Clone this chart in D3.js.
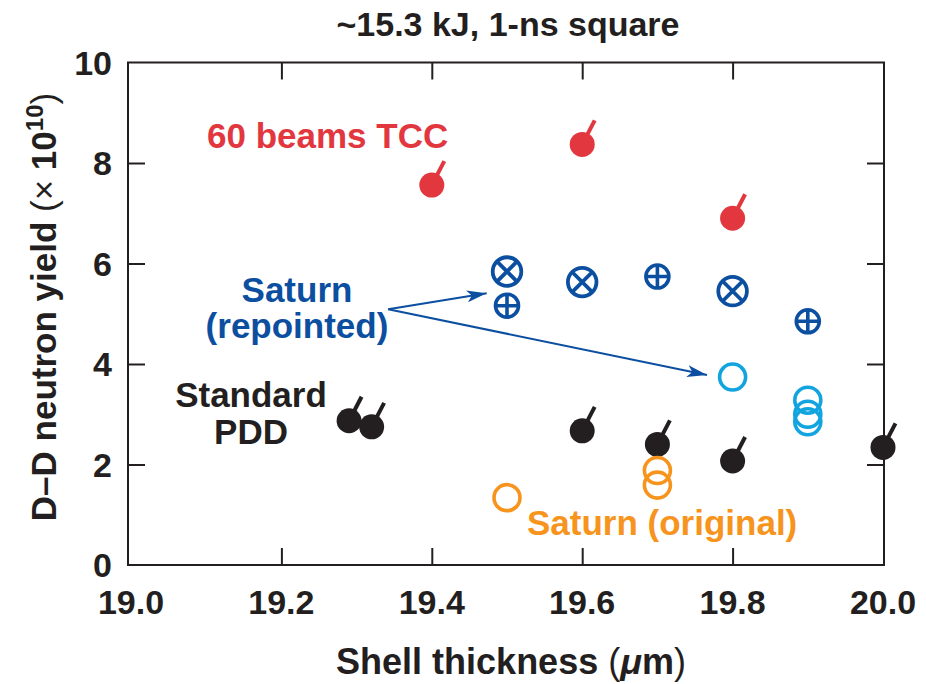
<!DOCTYPE html>
<html>
<head>
<meta charset="utf-8">
<script src="https://cdn.jsdelivr.net/npm/d3@7"></script>
<style>
  html, body { margin: 0; padding: 0; background: #fff; }
  svg { display: block; }
  text { font-family: "Liberation Sans", Arial, Helvetica, sans-serif; }
</style>
</head>
<body>
<svg id="chart" width="926" height="684"></svg>
<script>
// ---- Data ----
const xTicks = [19.0, 19.2, 19.4, 19.6, 19.8, 20.0];
const xTickLabels = ["19.0", "19.2", "19.4", "19.6", "19.8", "20.0"];
const yTicks = [0, 2, 4, 6, 8, 10];
const yTickLabels = ["0", "2", "4", "6", "8", "10"];

// 60 beams TCC (red, filled with tail)
const tccX = [19.4, 19.6, 19.8];
const tccY = [7.56, 8.37, 6.90];
// Standard PDD (black, filled with tail)
const pddX = [19.29, 19.32, 19.6, 19.7, 19.8, 20.0];
const pddY = [2.87, 2.75, 2.67, 2.40, 2.07, 2.34];
// Saturn repointed - circle with X
const repXX = [19.5, 19.6, 19.8];
const repXY = [5.84, 5.63, 5.45];
// Saturn repointed - circle with +
const repPX = [19.5, 19.7, 19.9];
const repPY = [5.16, 5.74, 4.85];
// Saturn repointed - open light blue
const repOX = [19.8, 19.9, 19.9, 19.9];
const repOY = [3.74, 3.28, 3.00, 2.85];
// Saturn original - open orange
const origX = [19.5, 19.7, 19.7];
const origY = [1.34, 1.88, 1.59];

// annotation arrows (data coords): start, tips
const arrowStart = [19.342, 5.09];
const arrowTips = [[19.473, 5.41], [19.766, 3.78]];

// ---- Colors ----
const RED = "#e3373f", BLACK = "#231f20", DBLUE = "#0c4fa0", LBLUE = "#12a4df", ORANGE = "#f7941d";

const svg = d3.select("#chart");
const L = 128, R = 884, T = 62.5, B = 565;
const x = d3.scaleLinear().domain([19.0, 20.0]).range([131, 883]);
const y = d3.scaleLinear().domain([0, 10]).range([B, T]);

// frame
svg.append("rect").attr("x", L).attr("y", T).attr("width", R - L).attr("height", B - T)
  .attr("fill", "none").attr("stroke", BLACK).attr("stroke-width", 2);

const tickLen = 17;
const innerX = xTicks.filter(v => v > 19.0 && v < 20.0);
const innerY = yTicks.filter(v => v > 0 && v < 10);

// axes via d3 axes (ticks inward)
const xAxisB = d3.axisBottom(x).tickValues(innerX).tickSize(-tickLen).tickFormat("");
const xAxisT = d3.axisTop(x).tickValues(innerX).tickSize(-tickLen).tickFormat("");
const yAxisL = d3.axisLeft(y).tickValues(innerY).tickSize(-tickLen).tickFormat("");
const yAxisR = d3.axisRight(y).tickValues(innerY).tickSize(-tickLen).tickFormat("");
function styleAxis(g) { g.select(".domain").remove(); g.selectAll("line").attr("stroke", BLACK).attr("stroke-width", 2); }
svg.append("g").attr("transform", `translate(0,${B})`).call(xAxisB).call(styleAxis);
svg.append("g").attr("transform", `translate(0,${T})`).call(xAxisT).call(styleAxis);
svg.append("g").attr("transform", `translate(${L},0)`).call(yAxisL).call(styleAxis);
svg.append("g").attr("transform", `translate(${R},0)`).call(yAxisR).call(styleAxis);

// tick labels
svg.append("g").selectAll("text").data(xTicks).join("text")
  .attr("x", d => x(d)).attr("y", 614)
  .attr("text-anchor", "middle").attr("font-size", 34).attr("font-weight", "bold")
  .attr("fill", BLACK).text((d, i) => xTickLabels[i]);
svg.append("g").selectAll("text").data(yTicks).join("text")
  .attr("x", 112).attr("y", d => y(d) + 12)
  .attr("text-anchor", "end").attr("font-size", 34).attr("font-weight", "bold")
  .attr("fill", BLACK).text((d, i) => yTickLabels[i]);

// title
svg.append("text").attr("x", 508).attr("y", 36).attr("text-anchor", "middle")
  .attr("font-size", 34).attr("font-weight", "bold").attr("fill", BLACK)
  .text("~15.3 kJ, 1-ns square");

// x label
const xl = svg.append("text").attr("x", 511).attr("y", 674).attr("text-anchor", "middle")
  .attr("font-size", 36).attr("font-weight", "bold").attr("fill", BLACK);
xl.append("tspan").text("Shell thickness ");
xl.append("tspan").attr("font-weight", "normal").text("(");
xl.append("tspan").attr("font-style", "italic").text("μ");
xl.append("tspan").text("m");
xl.append("tspan").attr("font-weight", "normal").text(")");

// y label
const yl = svg.append("text").attr("transform", "translate(56,307) rotate(-90)")
  .attr("text-anchor", "middle").attr("font-size", 35).attr("font-weight", "bold").attr("fill", BLACK);
yl.append("tspan").text("D–D neutron yield ");
yl.append("tspan").attr("font-weight", "normal").text("(× ");
yl.append("tspan").text("10");
yl.append("tspan").attr("font-size", 24).attr("dy", -13).text("10");
yl.append("tspan").attr("font-weight", "normal").attr("dy", 13).text(")");

// ---- markers ----
const rFill = 12.5;
function tailed(xs, ys, color) {
  const g = svg.append("g");
  const d = xs.map((v, i) => [v, ys[i]]);
  g.selectAll("line").data(d).join("line")
    .attr("x1", p => x(p[0])).attr("y1", p => y(p[1]))
    .attr("x2", p => x(p[0]) + 12.5).attr("y2", p => y(p[1]) - 24)
    .attr("stroke", color).attr("stroke-width", 4);
  g.selectAll("circle").data(d).join("circle")
    .attr("cx", p => x(p[0])).attr("cy", p => y(p[1])).attr("r", rFill).attr("fill", color);
}
tailed(tccX, tccY, RED);
tailed(pddX, pddY, BLACK);

function openC(xs, ys, color, r) {
  svg.append("g").selectAll("circle").data(xs.map((v, i) => [v, ys[i]])).join("circle")
    .attr("cx", p => x(p[0])).attr("cy", p => y(p[1])).attr("r", r)
    .attr("fill", "none").attr("stroke", color).attr("stroke-width", 3.6);
}
openC(repOX, repOY, LBLUE, 13);
openC(origX, origY, ORANGE, 13);

// circle with X
(function () {
  const r = 14.3, g = svg.append("g");
  const d = repXX.map((v, i) => [v, repXY[i]]);
  g.selectAll("circle").data(d).join("circle")
    .attr("cx", p => x(p[0])).attr("cy", p => y(p[1])).attr("r", r)
    .attr("fill", "none").attr("stroke", DBLUE).attr("stroke-width", 3.8);
  const k = r * Math.SQRT1_2;
  g.selectAll("path").data(d).join("path")
    .attr("d", p => { const cx = x(p[0]), cy = y(p[1]);
      return `M${cx - k},${cy - k}L${cx + k},${cy + k}M${cx - k},${cy + k}L${cx + k},${cy - k}`; })
    .attr("stroke", DBLUE).attr("stroke-width", 3.8);
})();
// circle with +
(function () {
  const r = 11.5, g = svg.append("g");
  const d = repPX.map((v, i) => [v, repPY[i]]);
  g.selectAll("circle").data(d).join("circle")
    .attr("cx", p => x(p[0])).attr("cy", p => y(p[1])).attr("r", r)
    .attr("fill", "none").attr("stroke", DBLUE).attr("stroke-width", 3.6);
  g.selectAll("path").data(d).join("path")
    .attr("d", p => { const cx = x(p[0]), cy = y(p[1]);
      return `M${cx - r},${cy}L${cx + r},${cy}M${cx},${cy - r}L${cx},${cy + r}`; })
    .attr("stroke", DBLUE).attr("stroke-width", 3.6);
})();

// ---- annotations ----
svg.append("text").attr("x", 207).attr("y", 148).attr("font-size", 35).attr("font-weight", "bold")
  .attr("fill", RED).text("60 beams TCC");
svg.append("text").attr("x", 527).attr("y", 535).attr("font-size", 35).attr("font-weight", "bold")
  .attr("fill", ORANGE).text("Saturn (original)");
const sd = svg.append("text").attr("text-anchor", "middle").attr("font-size", 35).attr("font-weight", "bold").attr("fill", BLACK);
sd.append("tspan").attr("x", 251).attr("y", 407).text("Standard");
sd.append("tspan").attr("x", 251).attr("y", 444).text("PDD");
const sr = svg.append("text").attr("text-anchor", "middle").attr("font-size", 35).attr("font-weight", "bold").attr("fill", DBLUE);
sr.append("tspan").attr("x", 297).attr("y", 302).text("Saturn");
sr.append("tspan").attr("x", 297).attr("y", 338).text("(repointed)");

// arrows
const defs = svg.append("defs");
defs.append("marker").attr("id", "ah").attr("viewBox", "0 0 20 12").attr("refX", 20).attr("refY", 6)
  .attr("markerWidth", 20).attr("markerHeight", 12).attr("markerUnits", "userSpaceOnUse").attr("orient", "auto")
  .append("path").attr("d", "M0,0L20,6L0,12L5,6Z").attr("fill", DBLUE);
svg.append("g").selectAll("line").data(arrowTips).join("line")
  .attr("x1", x(arrowStart[0])).attr("y1", y(arrowStart[1]))
  .attr("x2", d => x(d[0])).attr("y2", d => y(d[1]))
  .attr("stroke", DBLUE).attr("stroke-width", 2).attr("marker-end", "url(#ah)");
</script>
</body>
</html>
